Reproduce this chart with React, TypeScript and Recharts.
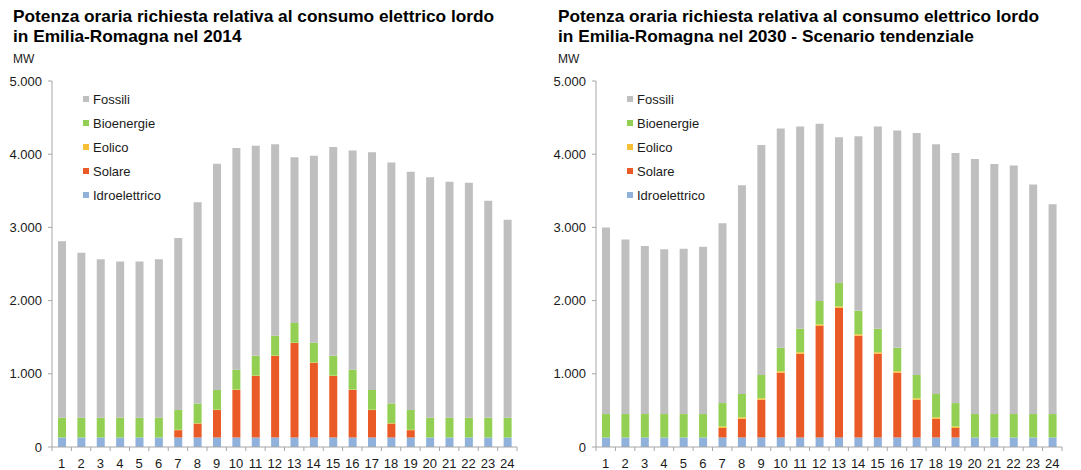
import React from "react";
import { BarChart, Bar, XAxis, YAxis } from "recharts";

// ore del giorno
const hours = ["1", "2", "3", "4", "5", "6", "7", "8", "9", "10", "11", "12", "13", "14", "15", "16", "17", "18", "19", "20", "21", "22", "23", "24"];
const yTicks = [0, 1000, 2000, 3000, 4000, 5000];

// 2014 (MW)
const idro2014 = [130, 130, 130, 130, 130, 130, 130, 130, 130, 130, 130, 130, 130, 130, 130, 130, 130, 130, 130, 130, 130, 130, 130, 130];
const solare2014 = [0, 0, 0, 0, 0, 0, 100, 190, 375, 650, 840, 1115, 1290, 1020, 840, 650, 375, 190, 100, 0, 0, 0, 0, 0];
const eolico2014 = [0, 0, 0, 0, 0, 0, 5, 5, 5, 5, 5, 5, 5, 5, 5, 5, 5, 5, 5, 0, 0, 0, 0, 0];
const bio2014 = [270, 270, 270, 270, 270, 270, 270, 270, 270, 270, 270, 270, 270, 270, 270, 270, 270, 270, 270, 270, 270, 270, 270, 270];
const fossili2014 = [2410, 2255, 2165, 2135, 2135, 2165, 2350, 2750, 3090, 3030, 2870, 2615, 2265, 2555, 2855, 2995, 3245, 3290, 3255, 3285, 3225, 3210, 2965, 2705];

// 2030 scenario tendenziale (MW)
const idro2030 = [130, 130, 130, 130, 130, 130, 130, 130, 130, 130, 130, 130, 130, 130, 130, 130, 130, 130, 130, 130, 130, 130, 130, 130];
const solare2030 = [0, 0, 0, 0, 0, 0, 130, 255, 515, 885, 1145, 1525, 1770, 1390, 1145, 885, 515, 255, 130, 0, 0, 0, 0, 0];
const eolico2030 = [0, 0, 0, 0, 0, 0, 20, 20, 20, 20, 20, 20, 20, 20, 20, 20, 20, 20, 20, 0, 0, 0, 0, 0];
const bio2030 = [320, 320, 320, 320, 320, 320, 320, 320, 320, 320, 320, 320, 320, 320, 320, 320, 320, 320, 320, 320, 320, 320, 320, 320];
const fossili2030 = [2550, 2385, 2295, 2250, 2260, 2285, 2455, 2850, 3140, 2995, 2765, 2420, 1990, 2385, 2765, 2970, 3305, 3410, 3415, 3485, 3415, 3395, 3135, 2865];

const series = [
  { key: "Idroelettrico", color: "#8fb1dc" },
  { key: "Solare", color: "#ea5a26" },
  { key: "Eolico", color: "#f7bf33" },
  { key: "Bioenergie", color: "#92cf52" },
  { key: "Fossili", color: "#bfbfbf" },
];

const FONT = "'Liberation Sans', Arial, sans-serif";
const AXIS = "#a6a6a6";

const fmt = (v: number) => String(v).replace(/\B(?=(\d{3})+(?!\d))/g, ".");

function buildRows(idro: number[], sol: number[], eol: number[], bio: number[], fos: number[]) {
  return hours.map((h, i) => ({
    hour: h,
    Idroelettrico: idro[i],
    Solare: sol[i],
    Eolico: eol[i],
    Bioenergie: bio[i],
    Fossili: fos[i],
  }));
}

const data2014 = buildRows(idro2014, solare2014, eolico2014, bio2014, fossili2014);
const data2030 = buildRows(idro2030, solare2030, eolico2030, bio2030, fossili2030);

function HourTick(props: any) {
  const { x, y, payload, index, visibleTicksCount } = props;
  const half = payload?.offset ?? 9.7;
  return (
    <g>
      <line x1={x - half} x2={x - half} y1={y} y2={y + 4} stroke={AXIS} />
      {index === visibleTicksCount - 1 && (
        <line x1={x + half} x2={x + half} y1={y} y2={y + 4} stroke={AXIS} />
      )}
      <text x={x} y={y + 21} textAnchor="middle" fontSize={13} fill="#1a1a1a" fontFamily={FONT}>
        {payload.value}
      </text>
    </g>
  );
}

function LegendBox({ left }: { left: number }) {
  const order = [...series].reverse();
  return (
    <div style={{ position: "absolute", left, top: 87, fontFamily: FONT, fontSize: 13, color: "#1a1a1a" }}>
      {order.map((s) => (
        <div key={s.key} style={{ display: "flex", alignItems: "center", height: 24 }}>
          <span style={{ width: 6, height: 6, background: s.color, marginRight: 4 }} />
          <span>{s.key}</span>
        </div>
      ))}
    </div>
  );
}

function Panel({ left, title, data, marginLeft, marginRight }: any) {
  return (
    <div style={{ position: "absolute", left, top: 0, width: 540, height: 470 }}>
      <div
        style={{
          position: "absolute",
          left: 13,
          top: 7,
          fontFamily: FONT,
          fontWeight: "bold",
          fontSize: 17.3,
          lineHeight: "19.5px",
          color: "#000",
          whiteSpace: "pre",
        }}
      >
        {title}
      </div>
      <div style={{ position: "absolute", left: 13, top: 52, fontFamily: FONT, fontSize: 12, color: "#1a1a1a" }}>
        MW
      </div>
      <div style={{ position: "absolute", left: 0, top: 0 }}>
        <BarChart
          width={540}
          height={470}
          data={data}
          margin={{ top: 81, right: marginRight, bottom: 0, left: marginLeft }}
          barSize={8}
        >
          <XAxis
            dataKey="hour"
            stroke={AXIS}
            tickLine={false}
            tickSize={0}
            tickMargin={0}
            height={23}
            interval={0}
            tick={<HourTick />}
          />
          <YAxis
            width={40}
            domain={[0, 5000]}
            ticks={yTicks}
            tickFormatter={fmt}
            stroke={AXIS}
            tickSize={4}
            tickMargin={6}
            tick={{ fill: "#1a1a1a", fontSize: 13, fontFamily: FONT }}
          />
          {series.map((s) => (
            <Bar key={s.key} dataKey={s.key} stackId="a" fill={s.color} isAnimationActive={false} />
          ))}
        </BarChart>
      </div>
      <LegendBox left={marginLeft + 40 + 31} />
    </div>
  );
}

export default function App() {
  return (
    <div style={{ position: "absolute", left: 0, top: 0, width: 1081, height: 470, background: "#fff" }}>
      <Panel
        left={0}
        title={"Potenza oraria richiesta relativa al consumo elettrico lordo\nin Emilia-Romagna nel 2014"}
        data={data2014}
        marginLeft={12}
        marginRight={23}
      />
      <Panel
        left={545}
        title={"Potenza oraria richiesta relativa al consumo elettrico lordo\nin Emilia-Romagna nel 2030 - Scenario tendenziale"}
        data={data2030}
        marginLeft={11}
        marginRight={23}
      />
    </div>
  );
}
